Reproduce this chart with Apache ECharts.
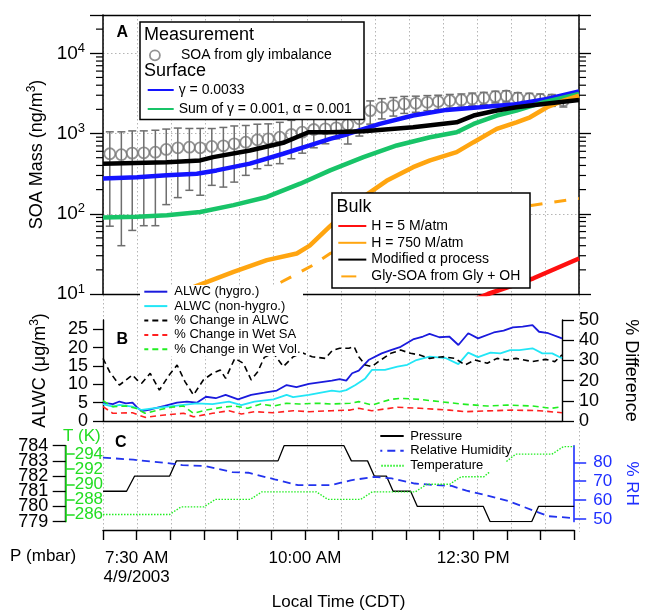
<!DOCTYPE html>
<html><head><meta charset="utf-8">
<script src="https://cdn.jsdelivr.net/npm/echarts@6/dist/echarts.min.js"></script>
<style>html,body{margin:0;padding:0;background:#fff}#c{width:648px;height:612px}</style>
</head><body><div id="c"></div>
<script>
const FONT = '"Liberation Sans", Arial, Helvetica, sans-serif';

// ---------- x axis (local time, hours) ----------
const xTickHours = [7.5, 10, 12.5];
const xTickLabels = ['7:30 AM\n4/9/2003', '10:00 AM', '12:30 PM'];

// ---------- Panel A : SOA mass (ng/m3) ----------
const measTime = [7.10,7.27,7.43,7.60,7.77,7.93,8.10,8.27,8.43,8.60,8.77,8.93,9.10,9.27,9.43,9.60,9.77,9.93,10.10,10.27,10.43,10.60,10.77,10.93,11.10,11.27,11.43,11.60,11.77,11.93,12.10,12.27,12.43,12.60,12.77,12.93,13.10,13.27,13.43,13.60,13.77];
const measValue = [560,545,570,575,585,633,664,676,664,690,703,745,780,835,860,900,972,1038,1122,1144,1177,1290,1530,1930,2120,2230,2340,2380,2450,2500,2570,2620,2700,2775,2885,2940,2775,2720,2670,2620,2570];
const measError = [490,505,508,504,514,503,505,480,494,464,488,497,479,471,459,479,487,469,458,399,318,550,600,620,600,580,560,540,520,500,500,490,490,480,480,470,450,450,440,440,430];
const gammaLine = [[7.0,276],[7.5,285],[7.94,301],[8.38,316],[8.67,347],[9.16,421],[9.65,560],[10.04,710],[10.34,859],[10.58,973],[11.07,1321],[11.56,1676],[12.05,1970],[12.54,2123],[13.03,2293],[13.53,2697],[14.0,3350]];
const sumLine = [[7.0,90],[7.5,92],[7.94,96],[8.43,105],[8.92,128],[9.41,162],[9.9,237],[10.34,347],[10.83,508],[11.32,710],[11.81,900],[12.2,1038],[12.45,1318],[12.79,1675],[13.08,1932],[13.47,2448],[14.0,3110]];
const h5Line = [[12.3,7.5],[12.66,10],[13.33,15.7],[14.0,27.7]];
const h750Line = [[7.0,4.5],[8.06,10],[8.475,13.6],[8.92,18.9],[9.41,26.4],[9.85,32],[10.04,40],[10.34,70],[10.83,162],[11.17,257],[11.56,381],[11.81,462],[12.2,586],[12.45,780],[12.79,1143],[13.08,1380],[13.28,1593],[13.53,2123],[13.77,2570],[14.0,2965]];
const alphaLine = [[7.0,421],[7.94,440],[8.43,462],[8.62,508],[9.16,615],[9.65,766],[10.02,1038],[10.34,1040],[10.83,1069],[11.56,1197],[12.2,1380],[12.45,1674],[12.79,1932],[13.08,2124],[13.47,2339],[14.0,2624]];
const glyOHLine = [[9.0,7.0],[9.32,10],[9.63,14.2],[10.09,22.9],[10.34,32],[11.07,52.5],[11.81,74],[12.54,98.6],[13.32,128],[14.0,155]];

// ---------- Panel B : ALWC (ug/m3) and % difference ----------
const alwcHygro = [[7.00,5.0],[7.15,4.6],[7.25,5.3],[7.35,4.8],[7.45,5.0],[7.52,3.7],[7.59,2.7],[7.74,3.2],[7.94,4.1],[8.13,5.0],[8.28,5.3],[8.43,5.0],[8.57,6.6],[8.72,6.2],[8.87,7.1],[9.06,5.9],[9.26,7.1],[9.46,7.7],[9.65,8.3],[9.80,9.8],[9.95,9.2],[10.14,10.1],[10.49,11.0],[10.61,11.4],[10.71,11.0],[10.80,13.0],[10.90,13.7],[11.05,16.6],[11.25,18.4],[11.39,19.3],[11.54,20.2],[11.74,22.3],[11.88,23.0],[11.98,23.7],[12.13,22.8],[12.28,23.0],[12.42,20.7],[12.57,23.9],[12.72,22.5],[12.96,24.1],[13.11,24.6],[13.25,25.5],[13.40,25.7],[13.55,26.1],[13.65,24.3],[13.79,23.9],[14.00,22.5]];
const alwcNonHygro = [[7.00,4.6],[7.15,3.9],[7.25,4.4],[7.45,3.9],[7.59,3.0],[7.79,3.5],[7.99,3.9],[8.23,4.4],[8.43,4.8],[8.67,4.6],[8.92,5.3],[9.11,4.3],[9.31,5.3],[9.60,5.9],[9.80,7.1],[9.90,6.5],[10.14,7.1],[10.49,8.3],[10.61,8.0],[10.71,8.4],[10.85,9.8],[11.00,11.6],[11.10,13.9],[11.30,13.9],[11.49,14.8],[11.64,15.3],[11.78,16.6],[11.98,17.5],[12.23,17.1],[12.42,15.5],[12.57,18.6],[12.72,17.4],[12.91,18.6],[13.06,18.4],[13.21,19.3],[13.35,19.3],[13.55,19.8],[13.70,18.4],[13.85,18.4],[14.00,17.1]];
const pctALWC = [[7.00,31.0],[7.10,24.4],[7.25,17.8],[7.45,22.8],[7.52,20.3],[7.59,18.7],[7.72,23.6],[7.86,15.3],[8.01,22.8],[8.13,27.7],[8.25,19.5],[8.38,12.9],[8.53,20.3],[8.67,23.6],[8.79,25.2],[8.87,21.1],[9.01,31.0],[9.14,28.6],[9.26,20.3],[9.36,24.4],[9.46,31.5],[9.60,33.5],[9.75,26.9],[9.90,31.8],[10.04,33.8],[10.19,31.8],[10.39,31.0],[10.50,35.0],[10.61,36.0],[10.75,36.0],[10.83,36.8],[10.90,31.8],[11.00,27.7],[11.10,26.9],[11.20,29.4],[11.39,33.5],[11.54,35.1],[11.69,33.5],[11.83,32.7],[11.98,31.0],[12.18,31.8],[12.37,31.0],[12.52,27.7],[12.67,30.2],[12.86,28.6],[13.01,31.0],[13.16,30.2],[13.30,31.0],[13.55,29.4],[13.75,30.5],[13.89,29.4],[14.00,32.7]];
const pctWetSA = [[7.00,7.1],[7.15,3.8],[7.45,4.1],[7.64,1.8],[7.94,3.0],[8.23,3.8],[8.38,2.1],[8.67,3.8],[8.92,5.1],[9.11,3.5],[9.31,4.6],[9.60,4.1],[9.90,5.1],[10.14,4.6],[10.49,5.1],[10.77,5.4],[10.90,6.3],[11.10,5.1],[11.49,6.8],[11.83,6.3],[12.28,5.4],[12.52,4.6],[12.86,5.0],[13.25,5.4],[13.65,5.1],[14.00,4.1]];
const pctWetVol = [[7.00,10.0],[7.15,7.1],[7.35,7.4],[7.50,6.3],[7.64,3.8],[7.84,5.4],[8.04,6.8],[8.23,7.4],[8.38,3.8],[8.57,5.4],[8.82,6.8],[9.01,7.4],[9.21,6.3],[9.41,8.4],[9.60,7.4],[9.80,8.8],[9.99,8.4],[10.29,8.8],[10.49,8.4],[10.77,8.8],[10.90,9.6],[11.10,7.9],[11.39,10.7],[11.54,11.2],[11.83,10.7],[12.13,9.6],[12.47,8.4],[12.86,7.4],[13.16,7.9],[13.55,7.4],[13.84,6.3],[14.00,7.1]];

// ---------- Panel C : meteorology ----------
const pressure = [[7.0,781],[7.35,781],[7.47,782],[7.99,782],[8.09,783],[9.60,783],[9.69,784],[10.58,784],[10.69,783],[10.93,783],[11.03,782],[11.21,782],[11.31,781],[11.57,781],[11.67,780],[12.65,780],[12.75,779],[13.37,779],[13.47,780],[14.0,780]];
const relHum = [[7.0,82.5],[7.45,81.4],[7.94,79.7],[8.18,78.5],[8.53,78.0],[8.92,74.8],[9.16,74.5],[9.55,71.0],[9.90,67.9],[10.39,67.9],[10.68,70.5],[11.03,72.3],[11.29,71.5],[11.63,68.8],[11.96,67.9],[12.18,67.5],[12.40,65.0],[12.69,62.6],[13.03,59.4],[13.38,54.7],[13.62,51.5],[14.0,50.5]];
const temperature = [[7.0,286],[7.99,286],[8.16,287],[8.50,287],[8.67,288],[9.19,288],[9.36,289],[10.17,289],[10.34,288],[10.83,288],[11.0,289],[11.64,289],[11.81,290],[12.15,290],[12.32,291],[12.66,291],[12.79,292],[12.91,292],[12.99,293],[13.13,294],[13.67,294],[13.84,295],[14.0,295]];
const pressTicksOdd = [779,781,783];
const pressTicksEven = [780,782,784];
const tempTicksA = [286,290,294];
const tempTicksB = [288,292];
const rhTicks = [50,60,70,80];

// ---------- styles ----------
const GREEN_T = '#22dd22';
const BLUE_RH = '#1f2fff';
const grid = {color:'#b5b5b5', width:1, type:[1.5,2.5]};

const minorTicks = [];
for (let k = 1; k <= 4; k++) for (let m = 2; m <= 9; m++) { const v = m * Math.pow(10, k); if (v < 30000) minorTicks.push([7, v]); }

function renderErr(params, api){
  const t = api.value(0), lo = api.value(1), hi = api.value(2);
  const a = api.coord([t, lo]), b = api.coord([t, hi]);
  const st = {stroke:'#6e6e6e', lineWidth:1.5};
  return {type:'group', children:[
    {type:'line', shape:{x1:a[0],y1:a[1],x2:b[0],y2:b[1]}, style:st},
    {type:'line', shape:{x1:a[0]-4,y1:a[1],x2:a[0]+4,y2:a[1]}, style:st},
    {type:'line', shape:{x1:b[0]-4,y1:b[1],x2:b[0]+4,y2:b[1]}, style:st}]};
}
function renderMinor(params, api){
  const v = api.value(1);
  const l = api.coord([7, v]), r = api.coord([14, v]);
  const st = {stroke:'#000', lineWidth:1.2};
  return {type:'group', children:[
    {type:'line', shape:{x1:l[0]-7,y1:l[1],x2:l[0],y2:l[1]}, style:st},
    {type:'line', shape:{x1:r[0],y1:r[1],x2:r[0]+7,y2:r[1]}, style:st}]};
}
function line(name, data, xi, yi, color, width, type, z){
  return {name, type:'line', data, xAxisIndex:xi, yAxisIndex:yi, symbol:'none', smooth:false,
    lineStyle:{color, width, type: type || 'solid'}, itemStyle:{color}, z: z || 5, animation:false};
}
function logLabel(v){
  const L = Math.log10(v), r = Math.round(L);
  return Math.abs(L - r) < 1e-6 ? '10{s|' + r + '}' : '';
}

const xBase = {type:'value', min:7, max:14, interval:0.5, axisLabel:{show:false}, axisTick:{show:false}, splitLine:{show:false},
  axisLine:{show:true, onZero:false, lineStyle:{color:'#000', width:1.4}}};

const errData = measTime.map((t,i)=>[t, measValue[i]-measError[i], measValue[i]+measError[i]]);
const measData = measTime.map((t,i)=>[t, measValue[i]]);

const txt = (x, y, text, size, color, weight) => ({type:'text', x, y, z:55,
  style:{text, fill:color||'#000', font:(weight||'normal')+' '+size+'px '+FONT, textAlign:'left', textVerticalAlign:'middle', align:'left', verticalAlign:'middle'}});

const hideSym = {opacity:0};
const lbl = (o) => Object.assign({hideOverlap:false, showMinLabel:true, showMaxLabel:true, fontFamily:FONT}, o);

function pAxis(vals, showLine){
  return {gridIndex:2, type:'value', min:779, max:784, position:'left', offset:37.3,
    axisLine:{show:showLine, lineStyle:{color:'#000', width:1.4}},
    axisTick:{show:true, length:13, customValues:vals, lineStyle:{color:'#000', width:1.3}},
    axisLabel:lbl({color:'#000', fontSize:18, margin:17.5, customValues:vals}), splitLine:{show:false}};
}
function tAxis(vals, showLine){
  return {gridIndex:2, type:'value', min:285.05, max:295.12, position:'left', offset:37.3,
    axisLine:{show:showLine, lineStyle:{color:GREEN_T, width:1.6}},
    axisTick:{show:true, inside:true, length:9, customValues:vals, lineStyle:{color:GREEN_T, width:1.5}},
    axisLabel:lbl({inside:true, margin:9, color:GREEN_T, fontSize:17, customValues:vals}), splitLine:{show:false}};
}

const option = {
  animation:false,
  backgroundColor:'#fff',
  textStyle:{fontFamily:FONT},
  grid:[
    {left:103, top:15, width:476, height:279},
    {left:103, top:320, width:476, height:101},
    {left:103, top:445.7, width:476, height:77.6},
    {left:103, top:15, width:476, height:516.7}
  ],
  xAxis:[
    Object.assign({}, xBase, {gridIndex:0, position:'bottom'}),
    Object.assign({}, xBase, {gridIndex:0, position:'top'}),
    Object.assign({}, xBase, {gridIndex:1, position:'bottom'}),
    Object.assign({}, xBase, {gridIndex:2, position:'bottom', offset:8.4,
      axisTick:{show:true, length:10, lineStyle:{color:'#000', width:1.4}},
      axisLabel:lbl({show:true, margin:19, fontSize:17, lineHeight:19, color:'#000',
        formatter:v=>{const i = xTickHours.indexOf(v); return i>=0 ? xTickLabels[i] : '';}}),
      name:'Local Time (CDT)', nameLocation:'middle', nameGap:64,
      nameTextStyle:{fontSize:17, color:'#000', fontFamily:FONT}}),
    {gridIndex:3, type:'value', min:7, max:14, interval:0.5, axisLine:{show:false}, axisTick:{show:false}, axisLabel:{show:false},
      splitLine:{show:true, lineStyle:grid}}
  ],
  yAxis:[
    {gridIndex:0, type:'log', logBase:10, min:10, max:30000, position:'left',
      axisLine:{show:true, lineStyle:{color:'#000', width:1.5}},
      axisTick:{show:true, length:13, lineStyle:{color:'#000', width:1.3}},
      axisLabel:lbl({color:'#000', fontSize:19, margin:18, formatter:logLabel, rich:{s:{fontSize:13, padding:[0,0,10,0], fontFamily:FONT}}}),
      splitLine:{show:true, lineStyle:grid},
      name:'SOA Mass (ng/m{s|3})', nameLocation:'middle', nameRotate:90, nameGap:49,
      nameTextStyle:{fontSize:18, color:'#000', fontFamily:FONT, rich:{s:{fontSize:12, padding:[0,0,10,0], fontFamily:FONT}}}},
    {gridIndex:0, type:'log', logBase:10, min:10, max:30000, position:'right',
      axisLine:{show:true, lineStyle:{color:'#000', width:1.5}},
      axisTick:{show:true, length:12, lineStyle:{color:'#000', width:1.3}},
      axisLabel:{show:false}, splitLine:{show:false}},
    {gridIndex:1, type:'value', min:0, max:27.5, interval:5, position:'left',
      axisLine:{show:true, lineStyle:{color:'#000', width:1.4}},
      axisTick:{show:true, length:10, lineStyle:{color:'#000', width:1.3}},
      axisLabel:lbl({color:'#000', fontSize:18, margin:15, showMaxLabel:false}), splitLine:{show:false},
      name:'ALWC (μg/m{s|3})', nameLocation:'middle', nameRotate:90, nameGap:52,
      nameTextStyle:{fontSize:18, color:'#000', fontFamily:FONT, rich:{s:{fontSize:12, padding:[0,0,10,0], fontFamily:FONT}}}},
    {gridIndex:1, type:'value', min:0, max:50, interval:10, position:'right',
      axisLine:{show:true, lineStyle:{color:'#000', width:1.4}},
      axisTick:{show:true, length:12, lineStyle:{color:'#000', width:1.3}},
      axisLabel:lbl({color:'#000', fontSize:18, margin:17}), splitLine:{show:false},
      name:'% Difference', nameLocation:'middle', nameRotate:-90, nameGap:60,
      nameTextStyle:{fontSize:18, color:'#000', fontFamily:FONT}},
    pAxis(pressTicksOdd, true),
    pAxis(pressTicksEven, false),
    tAxis(tempTicksA, true),
    tAxis(tempTicksB, false),
    {gridIndex:2, type:'value', min:48.65, max:88.8, position:'right',
      axisLine:{show:true, lineStyle:{color:BLUE_RH, width:1.6}},
      axisTick:{show:true, length:12, customValues:rhTicks, lineStyle:{color:BLUE_RH, width:1.5}},
      axisLabel:lbl({color:BLUE_RH, fontSize:17, margin:19, customValues:rhTicks}), splitLine:{show:false},
      name:'% RH', nameLocation:'middle', nameRotate:-90, nameGap:48,
      nameTextStyle:{fontSize:17, color:BLUE_RH, fontFamily:FONT}},
    {gridIndex:3, type:'value', min:0, max:1, show:false}
  ],
  legend:[
    {z:60, left:149, top:48.3, orient:'vertical', padding:0, itemWidth:10, itemHeight:10, selectedMode:false,
      textStyle:{fontSize:14, lineHeight:14, color:'#000', fontFamily:FONT, padding:[0,0,0,16]},
      data:[{name:'SOA from gly imbalance', icon:'circle', itemStyle:{color:'rgba(0,0,0,0)', borderColor:'#777777', borderWidth:1.8}}]},
    {z:60, left:146.7, top:83, orient:'vertical', padding:0, itemWidth:26, itemHeight:14, itemGap:5, selectedMode:false,
      itemStyle:hideSym,
      textStyle:{fontSize:14, lineHeight:14, color:'#000', fontFamily:FONT},
      data:['γ = 0.0033', 'Sum of γ = 0.001, α = 0.001']},
    {z:60, left:337.3, top:219, orient:'vertical', padding:0, itemWidth:28, itemHeight:14, itemGap:2.8, selectedMode:false,
      itemStyle:hideSym,
      textStyle:{fontSize:14, lineHeight:14, color:'#000', fontFamily:FONT},
      data:['H = 5 M/atm', 'H = 750 M/atm', 'Modified α process', {name:'Gly-SOA from Gly + OH', lineStyle:{type:[15,20], dashOffset:32}}]},
    {z:60, left:143.3, top:285.2, orient:'vertical', padding:0, itemWidth:23, itemHeight:10, itemGap:1.4, selectedMode:false,
      itemStyle:hideSym,
      textStyle:{fontSize:13, lineHeight:13, color:'#000', fontFamily:FONT, padding:[0,0,0,2]},
      data:['ALWC (hygro.)', 'ALWC (non-hygro.)', '% Change in ALWC', '% Change in Wet SA', '% Change in Wet Vol.']},
    {z:60, left:379.3, top:429.5, orient:'vertical', padding:0, itemWidth:23.4, itemHeight:10, itemGap:1.85, selectedMode:false,
      itemStyle:hideSym,
      textStyle:{fontSize:13, lineHeight:13, color:'#000', fontFamily:FONT, padding:[0,0,0,1.6]},
      data:['Pressure', 'Relative Humidity', 'Temperature']}
  ],
  graphic:[
    {type:'rect', z:50, shape:{x:140, y:22, width:224, height:97.5}, style:{fill:'#fff', stroke:'#000', lineWidth:1.5}},
    {type:'rect', z:50, shape:{x:332, y:193, width:198, height:95}, style:{fill:'#fff', stroke:'#000', lineWidth:1.5}},
    {type:'rect', z:50, shape:{x:140, y:285, width:163, height:71}, style:{fill:'#fff'}},
    {type:'rect', z:50, shape:{x:376, y:428, width:130, height:44}, style:{fill:'#fff'}},
    txt(144, 35.5, 'Measurement', 18),
    txt(144, 71.5, 'Surface', 18),
    txt(336.5, 207.5, 'Bulk', 18),
    txt(116.5, 33, 'A', 16, '#000', 'bold'),
    txt(116.5, 340, 'B', 16, '#000', 'bold'),
    txt(115, 443, 'C', 16, '#000', 'bold'),
    txt(63, 436, 'T (K)', 17, GREEN_T),
    txt(10, 556, 'P (mbar)', 17)
  ],
  series:[
    {name:'minorTicks', type:'custom', xAxisIndex:0, yAxisIndex:0, data:minorTicks, renderItem:renderMinor, clip:false, silent:true, z:8, encode:{x:0, y:1}},
    {name:'errbars', type:'custom', xAxisIndex:0, yAxisIndex:0, data:errData, renderItem:renderErr, clip:false, silent:true, z:2, encode:{x:0, y:[1,2]}},
    {name:'SOA from gly imbalance', type:'scatter', xAxisIndex:0, yAxisIndex:0, data:measData, symbol:'circle', symbolSize:11, z:3,
      itemStyle:{color:'rgba(0,0,0,0)', borderColor:'#777777', borderWidth:1.8}},
    line('γ = 0.0033', gammaLine, 0, 0, '#1414ff', 4.5),
    line('Sum of γ = 0.001, α = 0.001', sumLine, 0, 0, '#18c468', 4.5),
    line('H = 5 M/atm', h5Line, 0, 0, '#ff1010', 4.5),
    line('H = 750 M/atm', h750Line, 0, 0, '#ffa510', 4.5),
    line('Modified α process', alphaLine, 0, 0, '#000000', 4.5, 'solid', 6),
    line('Gly-SOA from Gly + OH', glyOHLine, 0, 0, '#ffa510', 3, [12,12]),
    line('ALWC (hygro.)', alwcHygro, 2, 2, '#1a1add', 1.8),
    line('ALWC (non-hygro.)', alwcNonHygro, 2, 2, '#22e6f6', 1.8),
    line('% Change in ALWC', pctALWC, 2, 3, '#000000', 1.6, [6,4]),
    line('% Change in Wet SA', pctWetSA, 2, 3, '#ff2020', 1.6, [6,4]),
    line('% Change in Wet Vol.', pctWetVol, 2, 3, '#22ee22', 1.6, [6,4]),
    line('Pressure', pressure, 3, 4, '#000000', 1.3),
    line('Relative Humidity', relHum, 3, 8, '#2233ee', 1.8, [8,5]),
    line('Temperature', temperature, 3, 6, '#22ee22', 1.4, [1.5,1.5])
  ]
};
const chart = echarts.init(document.getElementById('c'), null, {renderer:'canvas', width:648, height:612});
chart.setOption(option);
</script></body></html>
